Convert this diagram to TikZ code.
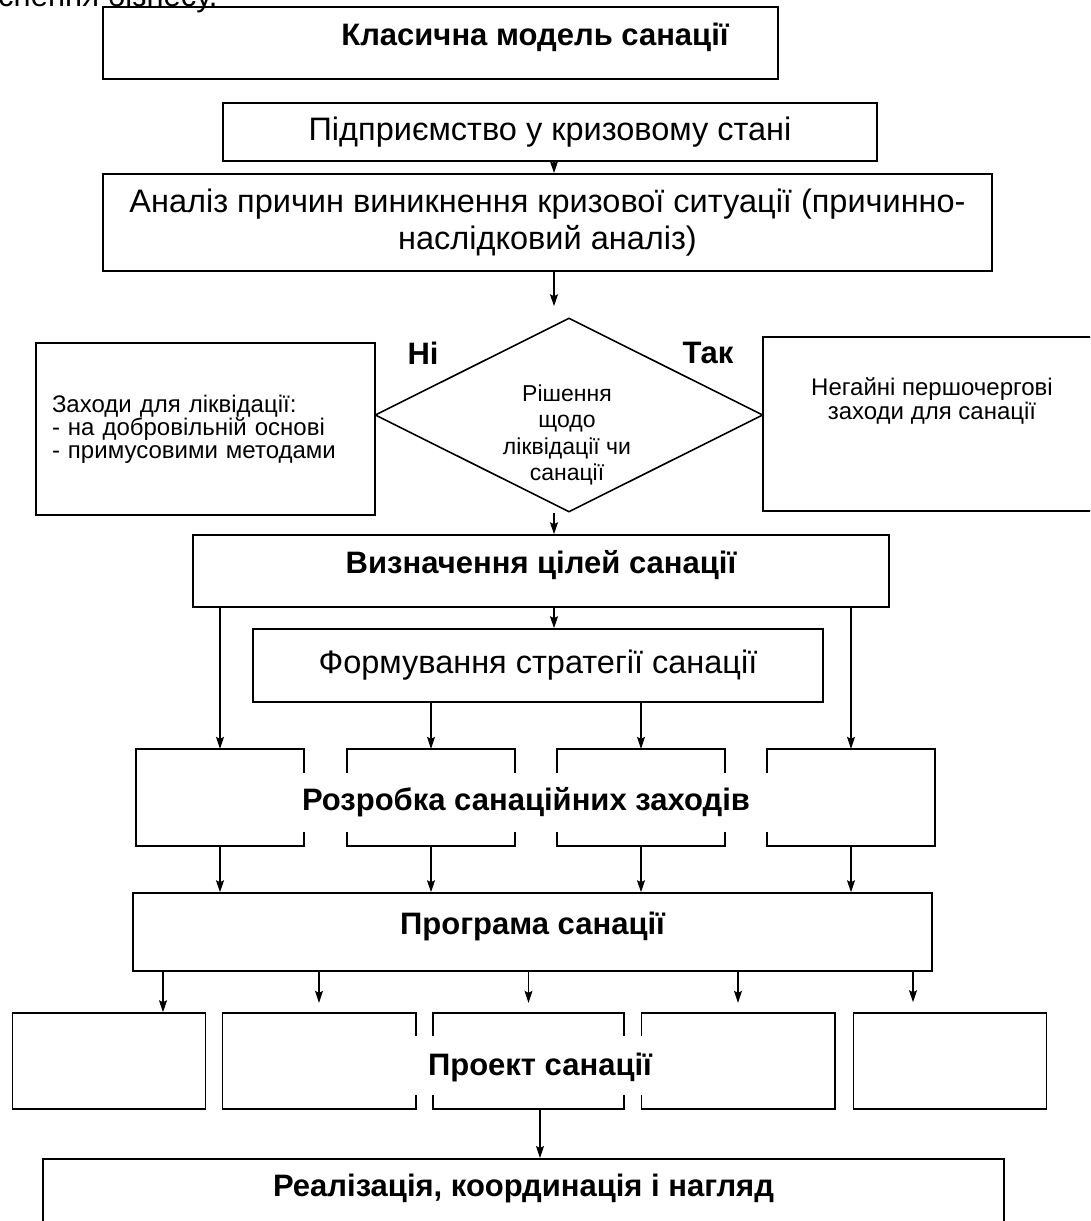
\documentclass[tikz,border=0pt]{standalone}
\usepackage{fontspec}
\setmainfont{Liberation Sans}
\usetikzlibrary{positioning}
\usetikzlibrary{calc}
\usetikzlibrary{arrows.meta}
\usetikzlibrary{shapes.geometric}

\tikzset{
    frame/.style={line width=1.6pt, line cap=rect},
    box/.style={draw, frame, inner sep=0pt, align=center},
    part/.style={inner sep=0pt, minimum height=97pt},
    headtxt/.style={font=\fontsize{31}{36}\selectfont\bfseries},
    headbox/.style={headtxt, text height=24pt, text depth=18.6pt},
    bodytxt/.style={font=\fontsize{32.5}{37}\selectfont},
    smalltxt/.style={font=\fontsize{24}{22.5}\selectfont},
    arr/.style={-{Stealth[length=12pt,width=8pt,inset=2pt]}, line width=1.1pt},
}

\begin{document}
\begin{tikzpicture}[x=1pt, y=-1pt]
    \useasboundingbox (0,0) rectangle (1090,1221);
    \clip (0,0) rectangle (1090,1221);

    % top part
    \node[bodytxt, font=\fontsize{31}{36}\selectfont, anchor=base west, inner sep=0pt] (cut) at (-2,6) {снення бізнесу.};
    \node[box, minimum width=675pt, minimum height=72pt] (klas) at (440.5,43) {};
    \node[headtxt] (klastxt) at (535,37) {Класична модель санації};
    \node[box, bodytxt, minimum width=654pt, minimum height=58pt] (pidpr) at (550,132) {Підприємство у кризовому стані};
    \node[box, bodytxt, minimum width=889pt, minimum height=97pt] (analiz) at (547.5,222.5)
        {Аналіз причин виникнення кризової ситуації (причинно-\\наслідковий аналіз)};
    \coordinate (spine) at (554,0);

    % decision
    \node[draw, frame, diamond, minimum width=388pt, minimum height=194pt, inner sep=0pt] (dec) at (569,415) {};
    \node[align=center, font=\fontsize{23}{26.5}\selectfont] (dectxt) at (567,435)
        {Рішення\\щодо\\ліквідації чи\\санації};
    \node[box, smalltxt, align=left, text width=307pt, minimum width=339pt, minimum height=172pt] (liq) at (205.5,429)
        {Заходи для ліквідації:\\- на добровільній основі\\- примусовими методами};
    \node[box, minimum width=338pt, minimum height=174pt] (fast) at (932,424) {};
    \node[align=center, font=\fontsize{24}{24}\selectfont] (fasttxt) at (932,401)
        {Негайні першочергові\\заходи для санації};
    \node[headtxt] (no) at (423,353) {Ні};
    \node[headtxt] (yes) at (708,353) {Так};

    % goals and strategy
    \node[box, headbox, minimum width=696pt, minimum height=72pt] (goals) at (541,571) {Визначення цілей санації};
    \node[box, bodytxt, minimum width=570pt, minimum height=73pt] (strat) at (538,665.5) {Формування стратегії санації};

    % development of measures
    \node[part, minimum width=168pt] (devA) at (220,797.5) {};
    \node[part, minimum width=168pt] (devB) at (431,797.5) {};
    \node[part, minimum width=168pt] (devC) at (641,797.5) {};
    \node[part, minimum width=168pt] (devD) at (851,797.5) {};
    \node[headtxt] (devtxt) at (526,802) {Розробка санаційних заходів};
    \draw[frame] ($(devA.north east)+(0,23)$) -- (devA.north east) -- (devA.north west)
        -- (devA.south west) -- (devA.south east) -- ++(0,-13);
    \draw[frame] ($(devD.north west)+(0,23)$) -- (devD.north west) -- (devD.north east)
        -- (devD.south east) -- (devD.south west) -- ++(0,-13);
    \foreach \b in {devB, devC} {
        \draw[frame] ($(\b.north west)+(0,23)$) -- (\b.north west) -- (\b.north east) -- ++(0,23);
        \draw[frame] ($(\b.south west)+(0,-13)$) -- (\b.south west) -- (\b.south east) -- ++(0,-13);
    }

    % programme
    \node[box, headbox, minimum width=799pt, minimum height=78pt] (prog) at (532.5,932) {Програма санації};

    % project
    \node[box, minimum width=193pt, minimum height=96pt] (proA) at (109,1061) {};
    \node[part, minimum width=193pt, minimum height=96pt] (proB) at (319,1061) {};
    \node[part, minimum width=191pt, minimum height=96pt] (proC) at (528.5,1061) {};
    \node[part, minimum width=193pt, minimum height=96pt] (proD) at (738,1061) {};
    \node[box, minimum width=193pt, minimum height=96pt] (proE) at (950,1061) {};
    \node[headtxt] (protxt) at (540,1067) {Проект санації};
    \draw[frame] ($(proB.north east)+(0,22)$) -- (proB.north east) -- (proB.north west)
        -- (proB.south west) -- (proB.south east) -- ++(0,-13);
    \draw[frame] ($(proD.north west)+(0,22)$) -- (proD.north west) -- (proD.north east)
        -- (proD.south east) -- (proD.south west) -- ++(0,-13);
    \draw[frame] ($(proC.north west)+(0,22)$) -- (proC.north west) -- (proC.north east) -- ++(0,22);
    \draw[frame] ($(proC.south west)+(0,-13)$) -- (proC.south west) -- (proC.south east) -- ++(0,-13);

    % realisation
    \node[box, minimum width=961pt, minimum height=120pt, anchor=north] (real) at (523.5,1158) {};
    \node[headtxt] (realtxt) at (523.5,1188) {Реалізація, координація і нагляд};

    % arrows
    \draw[arr] (pidpr.south -| spine) -- (analiz.north -| spine);
    \draw[arr, shorten >=11pt] (analiz.south -| spine) -- (dec.north -| spine);
    \draw[arr] (dec.south -| spine) -- (goals.north -| spine);
    \draw[arr] (goals.south -| spine) -- (strat.north -| spine);
    \draw[arr] (goals.south -| devA.north) -- (devA.north);
    \draw[arr] (goals.south -| devD.north) -- (devD.north);
    \draw[arr] (strat.south -| devB.north) -- (devB.north);
    \draw[arr] (strat.south -| devC.north) -- (devC.north);
    \foreach \b in {devA, devB, devC, devD}
        \draw[arr] (\b.south) -- (\b.south |- prog.north);
    \coordinate (tA) at ([xshift=54pt]proA.north);
    \coordinate (tE) at ([xshift=-37pt, yshift=10pt]proE.north);
    \draw[arr] (prog.south -| tA) -- (tA);
    \foreach \b in {proB, proC, proD}
        \draw[arr] (prog.south -| \b.north) -- ([yshift=10pt]\b.north);
    \draw[arr] (prog.south -| tE) -- (tE);
    \draw[arr] (proC.south -| protxt) -- (real.north -| protxt);
\end{tikzpicture}
\end{document}
